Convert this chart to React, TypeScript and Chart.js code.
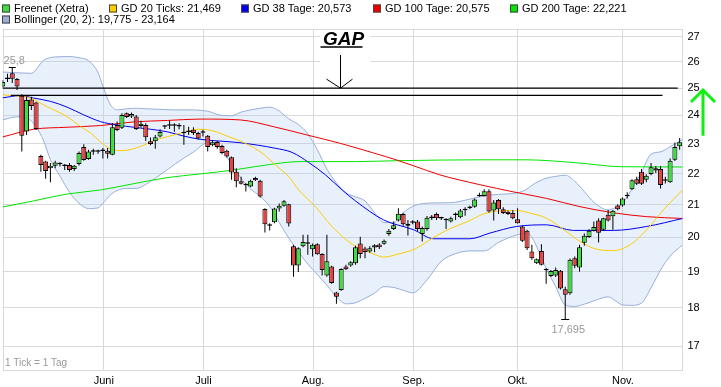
import React, { useEffect, useRef } from 'react';
import { Chart, registerables } from 'chart.js';

Chart.register(...registerables);

const FONT = "'Liberation Sans', Arial, Helvetica, sans-serif";
const GRID = '#d9d9d9';
const UP = '#3fdc3f';
const DOWN = '#e64141';

// ---------------- data ----------------
const monthTickIdx = [21.2, 42.1, 65.1, 86.2, 108.0, 130.1];
const monthLabels = ['Juni', 'Juli', 'Aug.', 'Sep.', 'Okt.', 'Nov.'];
const priceTicks = [17, 18, 19, 20, 21, 22, 23, 24, 25, 26, 27];

const opens = [
  25.06, 25.34, 25.56, 25.34, 24.72, 23.43, 24.58, 24.47, 22.59, 22.40,
  22.18, 22.26, 22.31, 22.27, 22.29, 22.15, 22.32, 22.89, 22.49, 22.73,
  22.75, 22.76, 22.77, 22.63, 23.66, 23.56, 24.08, 23.96, 23.96, 23.62,
  23.66, 23.09, 23.09, 23.26, 23.60, 23.63, 23.65, 23.63, 23.39, 23.41,
  23.49, 23.38, 23.39, 23.28, 22.95, 23.07, 22.93, 22.77, 22.55, 22.06,
  21.75, 21.64, 21.58, 21.86, 21.77, 20.87, 20.37, 20.46, 20.88, 20.97,
  21.02, 19.74, 19.18, 19.74, 19.83, 19.65, 19.80, 19.51, 18.89, 19.15,
  18.42, 18.49, 19.15, 19.18, 19.24, 19.82, 19.67, 19.58, 19.70, 19.79,
  19.81, 20.10, 20.25, 20.51, 20.71, 20.41, 20.44, 20.48, 20.10, 20.25,
  20.59, 20.71, 20.57, 20.54, 20.48, 20.68, 20.61, 20.83, 20.90, 20.94,
  21.27, 21.28, 21.43, 20.82, 21.15, 20.86, 20.78, 20.74, 20.55, 20.33,
  20.20, 19.58, 19.24, 19.60, 19.06, 18.88, 18.89, 19.03, 18.51, 18.40,
  19.39, 19.12, 19.84, 20.01, 20.20, 20.51, 20.23, 20.69, 20.64, 20.98,
  20.98, 21.27, 21.49, 21.82, 22.06, 21.80, 21.99, 22.18, 22.15, 21.77,
  21.72, 22.46, 22.92,
];
const highs = [
  25.31, 25.54, 25.80, 25.38, 24.77, 24.68, 24.68, 24.50, 22.63, 22.43,
  22.35, 22.43, 22.38, 22.32, 22.35, 22.29, 22.74, 22.99, 22.80, 22.83,
  22.80, 22.86, 22.86, 23.72, 23.78, 24.08, 24.11, 24.11, 24.02, 23.81,
  23.72, 23.22, 23.31, 23.51, 23.66, 23.82, 23.72, 23.72, 23.66, 23.60,
  23.58, 23.42, 23.49, 23.31, 23.12, 23.10, 22.97, 22.80, 22.57, 22.18,
  21.90, 21.69, 21.80, 21.90, 21.80, 20.89, 20.43, 20.91, 21.04, 21.15,
  21.03, 19.78, 19.71, 20.08, 20.08, 19.82, 19.83, 19.53, 20.08, 19.17,
  18.44, 19.10, 19.20, 19.30, 19.75, 20.02, 19.72, 19.74, 19.80, 19.83,
  19.94, 20.25, 20.48, 20.89, 20.74, 20.53, 20.52, 20.53, 20.33, 20.65,
  20.68, 20.76, 20.63, 20.58, 20.63, 20.76, 20.87, 20.92, 20.97, 21.20,
  21.38, 21.49, 21.49, 21.15, 21.18, 20.92, 20.82, 20.84, 20.89, 20.35,
  20.23, 19.78, 19.38, 19.80, 19.10, 19.05, 19.12, 19.05, 18.58, 19.38,
  19.44, 19.78, 20.12, 20.25, 20.48, 20.58, 20.60, 20.84, 20.84, 21.02,
  21.23, 21.40, 21.82, 21.90, 22.15, 21.98, 22.35, 22.25, 22.25, 21.90,
  22.50, 23.05, 23.20,
];
const lows = [
  25.02, 25.23, 25.19, 24.93, 22.74, 23.31, 24.20, 23.49, 22.06, 21.83,
  21.72, 22.18, 22.24, 22.12, 22.06, 22.09, 22.27, 22.43, 22.46, 22.63,
  22.66, 22.50, 22.50, 22.61, 23.45, 23.52, 23.91, 23.91, 23.48, 23.57,
  23.10, 22.95, 22.83, 23.22, 23.52, 23.52, 23.42, 23.51, 22.97, 23.31,
  23.31, 23.15, 23.26, 22.74, 22.92, 22.83, 22.65, 22.54, 21.80, 21.56,
  21.65, 21.42, 21.56, 21.76, 21.23, 20.15, 20.21, 20.43, 20.79, 20.94,
  20.33, 18.86, 18.99, 19.71, 19.49, 19.44, 19.49, 18.89, 18.86, 18.66,
  18.11, 18.47, 19.05, 19.14, 19.20, 19.39, 19.39, 19.55, 19.56, 19.66,
  19.78, 20.05, 20.22, 20.48, 20.35, 20.06, 20.40, 20.18, 19.88, 20.20,
  20.53, 20.53, 20.53, 20.25, 20.45, 20.53, 20.58, 20.66, 20.86, 20.91,
  21.25, 21.26, 20.76, 20.51, 20.71, 20.71, 20.68, 20.55, 20.42, 19.86,
  19.63, 19.34, 19.22, 19.18, 18.66, 18.85, 18.85, 18.50, 17.695, 18.36,
  19.10, 19.00, 19.75, 19.98, 20.18, 19.85, 20.20, 20.48, 20.23, 20.83,
  20.94, 21.20, 21.47, 21.63, 21.63, 21.72, 21.95, 22.02, 21.52, 21.68,
  21.70, 22.42, 22.80,
];
const closes = [
  25.23, 25.37, 25.35, 25.06, 23.28, 24.56, 24.34, 23.52, 22.29, 22.09,
  22.26, 22.37, 22.33, 22.25, 22.12, 22.26, 22.69, 22.45, 22.74, 22.75,
  22.73, 22.78, 22.66, 23.58, 23.48, 24.02, 23.94, 24.05, 23.52, 23.70,
  23.23, 23.00, 23.23, 23.41, 23.62, 23.65, 23.63, 23.61, 23.37, 23.43,
  23.38, 23.19, 23.41, 22.89, 23.06, 22.89, 22.69, 22.57, 22.04, 21.75,
  21.67, 21.62, 21.77, 21.78, 21.26, 20.40, 20.35, 20.88, 20.97, 21.11,
  20.42, 19.18, 19.68, 19.86, 19.81, 19.78, 19.50, 19.05, 19.30, 18.68,
  18.30, 19.08, 19.07, 19.27, 19.71, 19.51, 19.57, 19.68, 19.77, 19.71,
  19.90, 20.20, 20.37, 20.72, 20.40, 20.35, 20.46, 20.25, 20.28, 20.60,
  20.61, 20.58, 20.59, 20.52, 20.58, 20.72, 20.82, 20.85, 20.92, 21.17,
  21.29, 21.43, 20.79, 21.07, 20.86, 20.74, 20.71, 20.58, 20.43, 19.90,
  19.68, 19.39, 19.36, 19.20, 19.04, 19.02, 19.05, 18.53, 18.36, 19.34,
  19.17, 19.71, 20.05, 20.20, 20.31, 20.14, 20.58, 20.51, 20.81, 20.86,
  21.20, 21.29, 21.78, 21.67, 21.67, 21.93, 22.21, 22.10, 21.63, 21.79,
  22.43, 22.89, 23.06,
];

// moving averages: [trading-day index, value]
const gd20 = [
  [-0.05, 24.75], [2.3, 24.72], [5.8, 24.63], [8.6, 24.38], [10.7, 24.2], [13.5, 23.96],
  [16.3, 23.61], [18.4, 23.38], [20.5, 23.07], [22.6, 22.83], [25, 22.77], [28.9, 22.91],
  [31.7, 23.11], [34.5, 23.25], [37.3, 23.37], [41.1, 23.51], [43.9, 23.46], [47.4, 23.25],
  [50.9, 23.02], [54.4, 22.69], [57.2, 22.29], [60, 21.9], [62.1, 21.47], [65.6, 20.94],
  [69, 20.34], [72.5, 19.88], [74.3, 19.72], [77.8, 19.51], [79.9, 19.42], [83, 19.51],
  [86.5, 19.66], [90.4, 20.0], [93.9, 20.27], [97.4, 20.47], [100.8, 20.71], [104.3, 20.81],
  [107.8, 20.82], [110.6, 20.74], [114.1, 20.58], [118.3, 20.17], [121.1, 19.88], [124.6, 19.65],
  [128.1, 19.61], [131.6, 19.78], [135.1, 20.23], [138.6, 20.84], [142.6, 21.469],
];
const gd38 = [
  [-0.05, 24.64], [3.7, 24.72], [6.5, 24.63], [10, 24.51], [13.5, 24.3], [17, 24.02],
  [20.5, 23.78], [24, 23.66], [27.5, 23.58], [31, 23.51], [34.5, 23.42], [38, 23.27],
  [41.4, 23.16], [49.8, 23.04], [57.2, 22.85], [60.7, 22.71], [64.2, 22.37], [67.7, 21.96],
  [71.2, 21.47], [74, 21.12], [79.9, 20.53], [86.2, 20.23], [90.4, 19.96], [98, 19.96],
  [102.2, 20.13], [107.8, 20.33], [114.1, 20.38], [119.7, 20.21], [128.1, 20.21], [135.1, 20.33],
  [142.6, 20.573],
];
const gd100 = [
  [-0.05, 23.24], [6.5, 23.51], [13.5, 23.58], [20.5, 23.64], [27.5, 23.77], [34.5, 23.82],
  [41.4, 23.87], [49.8, 23.84], [56.8, 23.6], [63.8, 23.31], [70.8, 23.02], [77.8, 22.69],
  [82.7, 22.45], [86.2, 22.26], [91.7, 21.96], [100.1, 21.64], [107.1, 21.41], [114.1, 21.2],
  [121.1, 20.94], [128.1, 20.75], [135.1, 20.63], [142.6, 20.575],
];
const gd200 = [
  [-0.05, 20.93], [6.4, 21.12], [13.5, 21.34], [20.5, 21.47], [27.4, 21.67], [34.5, 21.87],
  [41.4, 21.99], [48.4, 22.12], [57.2, 22.33], [62.4, 22.4], [74, 22.4], [82.7, 22.43],
  [100.1, 22.46], [109.6, 22.46], [121.1, 22.35], [129.5, 22.23], [142.6, 22.221],
];

// Bollinger (20, 2)
const bollIdx = [
  -0.05, 3, 6, 8.5, 10, 12, 14, 16, 18, 20, 21, 22.5, 24, 26, 28, 30, 33, 36, 38, 40,
  43, 46, 48, 50, 52, 54, 56, 58, 60, 62, 64, 66, 68, 70, 72, 74, 76, 78, 80, 82,
  84, 86, 89, 92, 95, 98, 101, 104, 108, 110, 111, 114, 116, 118, 120, 122, 124, 127, 129, 130,
  132, 134, 136, 138, 140, 142.6,
];
const bollUpper = [
  25.61, 25.58, 25.56, 26.05, 26.17, 26.2, 26.21, 26.16, 26.05, 25.58, 25.08, 24.42, 24.2, 24.24, 24.26, 24.24, 24.22, 24.2, 24.2, 24.2,
  24.15, 24.0, 23.99, 24.12, 24.2, 24.26, 24.3, 24.16, 23.88, 23.68, 23.35, 22.8, 22.15, 21.7, 21.38, 21.25, 21.12, 20.75, 20.45, 20.45,
  20.75, 20.95, 21.05, 21.06, 21.08, 21.18, 21.28, 21.33, 21.38, 21.5, 21.62, 21.85, 21.91, 21.95, 21.75, 21.42, 21.08, 20.84, 20.95, 21.05,
  21.5, 22.05, 22.65, 22.73, 22.9, 23.164,
];
const bollLower = [
  23.84, 23.95, 23.8, 23.14, 22.46, 21.92, 21.4, 21.05, 20.88, 20.9, 21.04, 21.3, 21.45, 21.52, 21.52, 21.65, 21.96, 22.3, 22.52, 22.72,
  23.04, 22.82, 22.3, 21.85, 21.5, 21.27, 20.95, 20.45, 19.98, 19.58, 19.22, 18.92, 18.62, 18.3, 18.11, 18.14, 18.26, 18.4, 18.58, 18.56,
  18.48, 18.41, 18.77, 19.3, 19.52, 19.6, 19.6, 19.85, 20.08, 20.12, 20.0, 19.1, 18.58, 18.08, 18.04, 18.1, 18.19, 18.3, 18.15, 18.08,
  18.07, 18.13, 18.55, 19.05, 19.45, 19.775,
];

// gap lines
const gapLevels = [25.0, 24.73];
const gapStartIdx = [-0.05, 1.7];
const gapEndIdx = [141.6, 138.4];

// annotation anchors (data units)
const gapArrowIdx = 70.8;
const gapArrowFrom = 26.27;
const gapBoxBottom = 25.92;
const trendArrow = [24.93, 23.28];

const legendRow1 = [
  { label: 'Freenet (Xetra)', color: UP },
  { label: 'GD 20 Ticks: 21,469', color: '#ffcc00' },
  { label: 'GD 38 Tage: 20,573', color: '#0000ee' },
  { label: 'GD 100 Tage: 20,575', color: '#ee0000' },
  { label: 'GD 200 Tage: 22,221', color: '#00e600' },
];
const legendRow2 = [{ label: 'Bollinger (20, 2): 19,775 - 23,164', color: '#9aaed8' }];
const legendRow1X = [2, 109, 241, 373, 510];

const fmt = (v: number) => String(v).replace('.', ',');

const overlay = {
  id: 'overlay',
  beforeDatasetsDraw(chart: any) {
    const { ctx, chartArea: a, scales } = chart;
    const x = scales.x;
    const y = scales.y;
    ctx.save();
    ctx.strokeStyle = GRID;
    ctx.lineWidth = 1;
    ctx.strokeRect(Math.round(a.left) + 0.5, Math.round(a.top) + 0.5, Math.round(a.right - a.left) - 1, Math.round(a.bottom - a.top) - 1);
    const cx = x.getPixelForValue(gapArrowIdx);
    const bb = y.getPixelForValue(gapBoxBottom);
    ctx.fillStyle = '#ffffff';
    ctx.fillRect(cx - 20, a.top + 1, 50, bb - a.top - 1);
    ctx.restore();
  },
  afterDatasetsDraw(chart: any) {
    const { ctx, scales } = chart;
    const x = scales.x;
    const y = scales.y;
    ctx.save();
    // GAP label + arrow
    const cx = Math.round(x.getPixelForValue(gapArrowIdx)) + 0.5;
    const top = y.getPixelForValue(gapArrowFrom);
    const tip = y.getPixelForValue(gapLevels[0]);
    ctx.fillStyle = '#000';
    ctx.font = `italic bold 19px ${FONT}`;
    ctx.textAlign = 'center';
    ctx.textBaseline = 'alphabetic';
    ctx.fillText('GAP', cx + 3, 44.5);
    ctx.strokeStyle = '#000';
    ctx.lineWidth = 1.5;
    ctx.beginPath();
    ctx.moveTo(cx - 20, 47);
    ctx.lineTo(cx + 22, 47);
    ctx.stroke();
    ctx.lineWidth = 1;
    ctx.beginPath();
    ctx.moveTo(cx, top);
    ctx.lineTo(cx, tip);
    ctx.moveTo(cx - 14, tip - 9);
    ctx.lineTo(cx, tip);
    ctx.lineTo(cx + 12, tip - 9);
    ctx.stroke();

    // max / min markers
    const hi = Math.max(...highs);
    const hiI = highs.indexOf(hi);
    const lo = Math.min(...lows);
    const loI = lows.indexOf(lo);
    ctx.font = `11px ${FONT}`;
    const hx = x.getPixelForValue(hiI);
    const hy = Math.round(y.getPixelForValue(hi)) + 0.5;
    ctx.beginPath();
    ctx.moveTo(hx - 3.5, hy);
    ctx.lineTo(hx + 3.5, hy);
    const lx = x.getPixelForValue(loI);
    const ly = Math.round(y.getPixelForValue(lo)) + 0.5;
    ctx.moveTo(lx - 4, ly);
    ctx.lineTo(lx + 4, ly);
    ctx.stroke();
    ctx.fillStyle = '#999';
    ctx.textAlign = 'center';
    ctx.textBaseline = 'alphabetic';
    ctx.fillText(fmt(hi), hx + 2, hy - 4);
    ctx.textBaseline = 'top';
    ctx.fillText(fmt(lo), lx + 3, ly + 5);
    ctx.restore();
  },
  afterDraw(chart: any) {
    const { ctx, chartArea: a, scales } = chart;
    const y = scales.y;
    ctx.save();
    // legend
    ctx.font = `11px ${FONT}`;
    ctx.textBaseline = 'middle';
    ctx.textAlign = 'left';
    const drawItem = (it: { label: string; color: string }, x0: number, yc: number) => {
      ctx.fillStyle = it.color;
      ctx.fillRect(x0, yc - 4, 8, 8);
      ctx.strokeStyle = '#444';
      ctx.lineWidth = 1;
      ctx.strokeRect(x0 + 0.5, yc - 3.5, 7, 7);
      ctx.fillStyle = '#000';
      ctx.fillText(it.label, x0 + 12, yc + 0.5);
    };
    legendRow1.forEach((it, k) => drawItem(it, legendRow1X[k], 8.5));
    legendRow2.forEach((it) => drawItem(it, 2, 19.5));

    // footnote
    ctx.font = `10px ${FONT}`;
    ctx.fillStyle = '#999';
    ctx.fillText('1 Tick = 1 Tag', 5, 363);

    // green trend arrow
    const ax = a.right + 20.5;
    const t = y.getPixelForValue(trendArrow[0]);
    const b = y.getPixelForValue(trendArrow[1]);
    ctx.strokeStyle = '#11ee11';
    ctx.lineWidth = 3;
    ctx.beginPath();
    ctx.moveTo(ax, b);
    ctx.lineTo(ax, t);
    ctx.moveTo(ax - 12, t + 12);
    ctx.lineTo(ax, t);
    ctx.lineTo(ax + 12, t + 12);
    ctx.stroke();
    ctx.restore();
  },
};

const lineDs = (label: string, pts: number[][], color: string, order: number) => ({
  type: 'line' as const,
  label,
  data: pts.map(([i, v]) => ({ x: i, y: v })),
  borderColor: color,
  borderWidth: 1,
  pointRadius: 0,
  cubicInterpolationMode: 'monotone' as const,
  fill: false,
  order,
});

export default function App() {
  const ref = useRef<HTMLCanvasElement>(null);
  useEffect(() => {
    document.body.style.margin = '0';
    const canvas = ref.current;
    if (!canvas) return;
    const idx = opens.map((_, i) => i);
    const bodyColors = idx.map((i) =>
      Math.abs(closes[i] - opens[i]) < 0.035 ? '#000' : closes[i] >= opens[i] ? UP : DOWN
    );
    const chart = new Chart(canvas, {
      type: 'bar',
      data: {
        datasets: [
          {
            type: 'bar',
            label: 'body',
            data: idx.map((i) => ({ x: i, y: [opens[i], closes[i]] })) as any,
            backgroundColor: bodyColors,
            borderColor: '#000',
            borderWidth: 1,
            borderSkipped: false,
            barThickness: 5,
            minBarLength: 1.5,
            grouped: false,
            inflateAmount: 0,
            order: 0,
          } as any,
          {
            type: 'bar',
            label: 'wick',
            data: idx.map((i) => ({ x: i, y: [lows[i], highs[i]] })) as any,
            backgroundColor: '#000',
            borderWidth: 0,
            barThickness: 1,
            grouped: false,
            inflateAmount: 0,
            order: 1,
          } as any,
          ...gapLevels.map((lv, k) => ({
            type: 'line' as const,
            label: 'gap' + k,
            data: [
              { x: gapStartIdx[k], y: lv },
              { x: gapEndIdx[k], y: lv },
            ],
            borderColor: '#000',
            borderWidth: 1.3,
            pointRadius: 0,
            fill: false,
            order: 2,
          })),
          lineDs('GD 20', gd20, '#ffcc00', 3),
          lineDs('GD 38', gd38, '#0000ee', 4),
          lineDs('GD 100', gd100, '#ee0000', 5),
          lineDs('GD 200', gd200, '#00e600', 6),
          {
            ...lineDs('Boll upper', bollIdx.map((v, k) => [v, bollUpper[k]]), '#98aedb', 8),
            fill: '+1',
            backgroundColor: 'rgba(180,205,245,0.3)',
          } as any,
          lineDs('Boll lower', bollIdx.map((v, k) => [v, bollLower[k]]), '#98aedb', 7),
        ],
      },
      options: {
        responsive: false,
        animation: false,
        devicePixelRatio: 1,
        events: [],
        layout: { padding: { top: 29, left: 2.5, right: 0, bottom: 0 } },
        plugins: {
          legend: { display: false },
          tooltip: { enabled: false },
        },
        scales: {
          x: {
            type: 'linear',
            min: -0.05,
            max: 142.6,
            offset: false,
            bounds: 'data',
            grid: { color: GRID, drawTicks: false, offset: false },
            border: { display: false },
            ticks: {
              font: { family: FONT, size: 11 },
              color: '#000',
              padding: 3,
              autoSkip: false,
              maxRotation: 0,
              callback: (_v: any, i: number) => monthLabels[i] ?? '',
            },
            afterBuildTicks: (s: any) => {
              s.ticks = monthTickIdx.map((v) => ({ value: v }));
            },
            afterFit: (s: any) => {
              s.height = 16;
            },
          },
          y: {
            type: 'logarithmic',
            position: 'right',
            min: 16.38,
            max: 27.31,
            bounds: 'data',
            grid: { color: GRID, drawTicks: false },
            border: { display: false },
            ticks: {
              font: { family: FONT, size: 11 },
              color: '#000',
              padding: 5,
              autoSkip: false,
              callback: (v: any) => String(v),
            },
            afterBuildTicks: (s: any) => {
              s.ticks = priceTicks.map((v) => ({ value: v }));
            },
            afterFit: (s: any) => {
              s.width = 38.5;
            },
          },
        },
      } as any,
      plugins: [overlay],
    });
    return () => chart.destroy();
  }, []);
  return (
    <div style={{ width: 721, height: 387, position: 'relative' }}>
      <canvas ref={ref} width={721} height={387} style={{ display: 'block', width: 721, height: 387 }} />
    </div>
  );
}
